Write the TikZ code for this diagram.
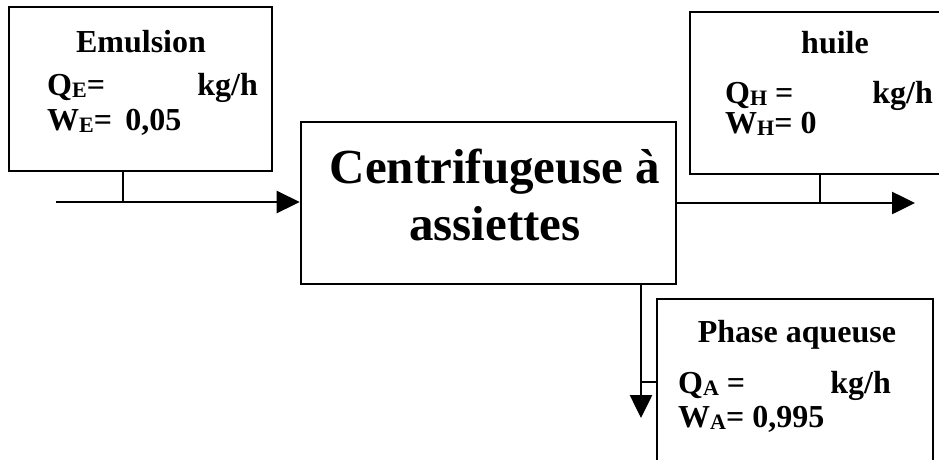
\documentclass[tikz,border=0pt]{standalone}
\usepackage{fontspec}
\setmainfont{Liberation Serif}
\usetikzlibrary{arrows.meta}
\newcommand\sbs[1]{\raisebox{-2pt}{\fontsize{22}{22}\selectfont #1}}
\begin{document}
\begin{tikzpicture}[x=1pt,y=-1pt,
  box/.style={draw, line width=2.6pt, inner sep=0pt},
  lbl/.style={inner sep=0pt, font=\fontsize{32}{32}\selectfont\bfseries},
  big/.style={inner sep=0pt, font=\fontsize{49}{57}\selectfont\bfseries},
  flow/.style={line width=2.6pt, -{Triangle[length=23pt,width=22pt]}},
  tie/.style={line width=2.6pt}]
\clip (0,0) rectangle (939,459);
\useasboundingbox (0,0) rectangle (939,459);
\fill[white] (0,0) rectangle (939,459);

% boxes
\node[box, minimum width=263pt, minimum height=164pt] (emul) at (140.5,89) {};
\node[box, minimum width=375pt, minimum height=162pt] (central) at (488.5,203) {};
\node[box, minimum width=280pt, minimum height=162pt] (huile) at (830,93) {};
\node[box, minimum width=276pt, minimum height=181pt] (phase) at (795,389.5) {};

% Emulsion texts
\node[lbl, anchor=base] (emt) at (141,52) {Emulsion};
\node[lbl, anchor=base west] (qe) at (47,95) {Q\sbs{E}=};
\node[lbl, anchor=base east] (kge) at (258,95) {kg/h};
\node[lbl, anchor=base west] (we) at (47,130) {W\sbs{E}= \,0,05};

% central texts
\node[big, anchor=base] (ct1) at (495,183) {Centrifugeuse à};
\node[big, anchor=base] (ct2) at (495,240) {assiettes};

% huile texts
\node[lbl, anchor=base] (ht) at (835,53) {huile};
\node[lbl, anchor=base west] (qh) at (725,103) {Q\sbs{H} =};
\node[lbl, anchor=base east] (kgh) at (933,103) {kg/h};
\node[lbl, anchor=base west] (wh) at (725,133) {W\sbs{H}= 0};

% phase aqueuse texts
\node[lbl, anchor=base] (pt) at (797,342) {Phase aqueuse};
\node[lbl, anchor=base west] (qa) at (678,393) {Q\sbs{A} =};
\node[lbl, anchor=base east] (kga) at (891,393) {kg/h};
\node[lbl, anchor=base west] (wa) at (678,427) {W\sbs{A}= 0,995};

% connectors
\coordinate (ein) at (56,202);
\draw[flow] (ein) -- (ein -| central.west);
\coordinate (ej) at (123,202);
\draw[tie] (ej) -- (ej |- emul.south);

\coordinate (hout) at (915,203);
\draw[flow] (central.east) -- (hout);
\coordinate (hj) at (820,203);
\draw[tie] (hj) -- (hj |- huile.south);

\coordinate (aout) at (641,418);
\draw[flow] (aout |- central.south) -- (aout);
\coordinate (aj) at (641,382);
\draw[tie] (aj) -- (aj -| phase.west);
\end{tikzpicture}
\end{document}
